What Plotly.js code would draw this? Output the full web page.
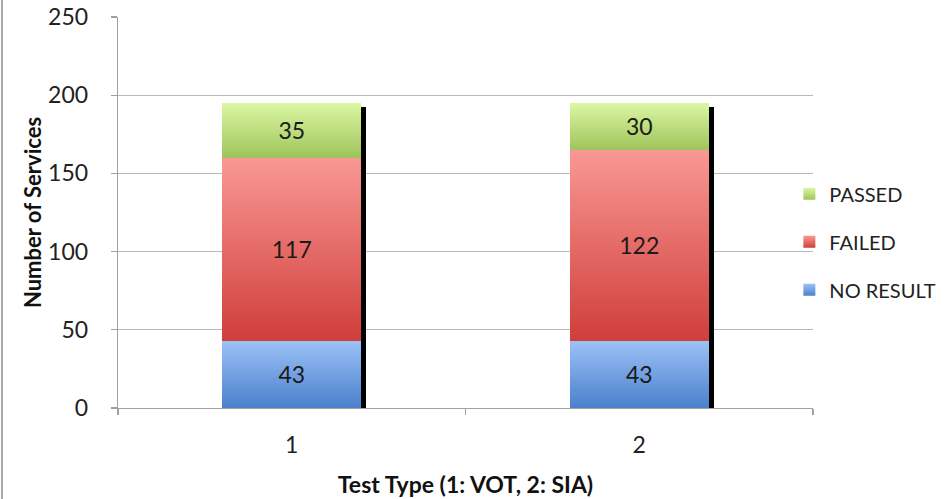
<!DOCTYPE html>
<html>
<head>
<meta charset="utf-8">
<script src="https://cdn.plot.ly/plotly-3.0.1.min.js"></script>
<style>
  html, body { margin: 0; padding: 0; background: #fff; }
  #chart { width: 947px; height: 499px; position: absolute; left: 0; top: 0; }
  #edge { position: absolute; left: 1px; top: 0; width: 2px; height: 499px; background: #a8a8a8; }
</style>
</head>
<body>
<div id="chart"></div>
<div id="edge"></div>
<script>
// ---- data ----
const categories = ['1', '2'];
const noResult = [43, 43];
const failed = [117, 122];
const passed = [35, 30];
const seriesNames = ['NO RESULT', 'FAILED', 'PASSED'];
const xTitle = 'Test Type (1: VOT, 2: SIA)';
const yTitle = 'Number of Services';

const totals = categories.map((c, i) => noResult[i] + failed[i] + passed[i]);

const colors = { blue: 'rgb(109, 157, 226)', red: 'rgb(228, 106, 102)', green: 'rgb(181, 217, 122)' };
const grads = {
  '109,157,226': ['#9cc2f7', '#4a80cc'],
  '228,106,102': ['#f99894', '#d03e3a'],
  '181,217,122': ['#dbf7a3', '#9fc45b']
};

const FONT = 'Lato, "Open Sans", sans-serif';
const labelFont = { family: FONT, size: 23, color: '#1a1a1a' };

function seg(name, vals, color, rank) {
  return {
    type: 'bar', name: name, x: categories, y: vals,
    xaxis: 'x2', yaxis: 'y', width: 0.4,
    marker: { color: color, line: { width: 0 } },
    texttemplate: '%{y}', textposition: 'inside', insidetextanchor: 'middle',
    textfont: labelFont, constraintext: 'none',
    legendgroup: name, legendrank: rank, hoverinfo: 'y+name'
  };
}

const shadow = {
  type: 'bar', x: categories, y: totals.map(t => t - 2.5),
  xaxis: 'x', yaxis: 'y', width: 0.4, offset: -0.2 + 0.0145,
  marker: { color: '#000', line: { width: 0 } },
  showlegend: false, hoverinfo: 'skip', textposition: 'none'
};

const data = [
  shadow,
  seg(seriesNames[0], noResult, colors.blue, 3),
  seg(seriesNames[1], failed, colors.red, 2),
  seg(seriesNames[2], passed, colors.green, 1)
];

const layout = {
  width: 947, height: 499,
  margin: { l: 118, r: 134, t: 17, b: 91, autoexpand: false },
  paper_bgcolor: '#fff', plot_bgcolor: '#fff',
  barmode: 'stack',
  font: { family: FONT, color: '#222' },
  showlegend: true,
  legend: {
    x: 0.966, xanchor: 'left', y: 0.425, yanchor: 'middle',
    traceorder: 'grouped', tracegroupgap: 19,
    font: { family: FONT, size: 20, color: '#222' },
    bgcolor: 'rgba(0,0,0,0)'
  },
  xaxis: {
    type: 'category', range: [-0.5, 1.5],
    showline: true, linecolor: '#a0a0a0', linewidth: 1.3,
    ticks: 'outside', tickson: 'boundaries', ticklen: 6, tickcolor: '#a0a0a0', tickwidth: 1.3,
    showgrid: false, zeroline: false,
    tickfont: { family: FONT, size: 23, color: '#222' },
    ticklabelstandoff: 16,
    title: { text: xTitle, font: { family: FONT, size: 23, color: '#111', weight: 'bold' }, standoff: 20 },
    automargin: false
  },
  xaxis2: {
    type: 'category', range: [-0.5, 1.5], overlaying: 'x', visible: false
  },
  yaxis: {
    range: [0, 250], dtick: 50, tick0: 0,
    showline: true, linecolor: '#a0a0a0', linewidth: 1.3,
    ticks: 'outside', ticklen: 6, tickcolor: '#a0a0a0', tickwidth: 1.3,
    showgrid: true, gridcolor: '#b8b8b8', gridwidth: 1.3, zeroline: false,
    tickfont: { family: FONT, size: 23, color: '#222' },
    ticklabelstandoff: 18,
    title: { text: yTitle, font: { family: FONT, size: 22, color: '#111', weight: 'bold' }, standoff: 0 },
    automargin: false
  }
};

Plotly.newPlot('chart', data, layout, { displayModeBar: false, staticPlot: true }).then(gd => {
  const NS = 'http://www.w3.org/2000/svg';
  const svg = gd.querySelector('svg.main-svg');
  let defs = svg.querySelector('defs');
  if (!defs) { defs = document.createElementNS(NS, 'defs'); svg.insertBefore(defs, svg.firstChild); }
  const ids = {};
  Object.keys(grads).forEach((k, i) => {
    const lg = document.createElementNS(NS, 'linearGradient');
    const id = 'barGrad' + i;
    lg.setAttribute('id', id);
    lg.setAttribute('x1', '0'); lg.setAttribute('y1', '0');
    lg.setAttribute('x2', '0'); lg.setAttribute('y2', '1');
    [['0%', grads[k][0]], ['100%', grads[k][1]]].forEach(([o, c]) => {
      const s = document.createElementNS(NS, 'stop');
      s.setAttribute('offset', o); s.setAttribute('stop-color', c);
      lg.appendChild(s);
    });
    defs.appendChild(lg);
    ids[k] = id;
  });
  gd.querySelectorAll('path').forEach(p => {
    const f = (p.style.fill || '').replace(/\s|rgb\(|\)/g, '');
    if (ids[f]) p.style.fill = 'url(#' + ids[f] + ')';
  });
});
</script>
</body>
</html>
